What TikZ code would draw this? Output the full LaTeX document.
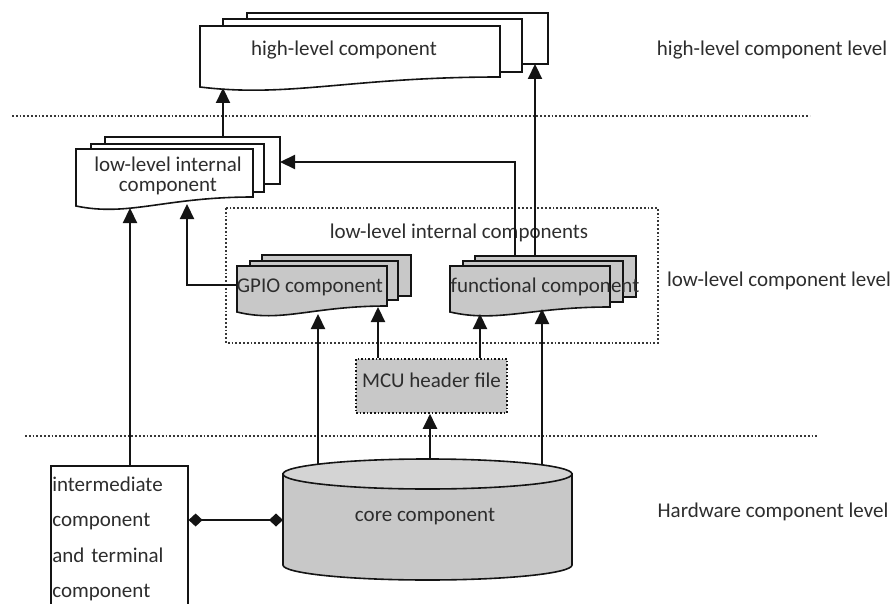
\documentclass[tikz,border=0pt]{standalone}
\usepackage{fontspec}
\setmainfont{Carlito}
\usetikzlibrary{arrows.meta}
\definecolor{txt}{RGB}{45,45,45}
\definecolor{ln}{RGB}{20,20,20}
\definecolor{gfill}{RGB}{200,200,200}
\definecolor{ctop}{RGB}{212,212,212}
\newcommand{\docfront}[6]{\draw[docline,fill=#6] (#1,#3) -- (#2,#3) -- (#2,#5) .. controls ({#1+0.5*(#2-#1)},#5) and ({#1+0.3*(#2-#1)},{#4+11}) .. (#1,#4) -- cycle;}
\newcommand{\docback}[5]{\draw[docline,fill=#5] (#1,#3) rectangle (#2,#4);}
\begin{document}
\begin{tikzpicture}[x=1pt,y=-1pt,
  docline/.style={draw=ln,line width=1.6pt},
  conn/.style={draw=ln,line width=2.2pt},
  arr/.style={conn,-{Triangle[length=15pt,width=14pt]}},
  lbl/.style={font=\fontsize{21}{24}\selectfont,text=txt,inner sep=0pt},
  sepline/.style={draw=ln!85,line width=1.8pt,dotted},
  dia/.style={conn,{Diamond[length=14pt,width=13pt]}-{Diamond[length=14pt,width=13pt]}}]
\useasboundingbox (0,0) rectangle (896,604);
% separators
\draw[sepline] (12,116) -- (810,116);
\draw[sepline] (25,436) -- (818,436);
\draw[sepline] (226,208) rectangle (658,343);
% high-level stack
\docback{247}{548}{13}{64}{white}
\docback{223}{522}{19}{72}{white}
\docfront{200}{500}{26}{87}{77}{white}
% low-level internal stack
\docback{105}{280}{137}{184}{white}
\docback{91}{264}{144}{192}{white}
\docfront{76}{253}{149}{206}{197}{white}
% GPIO stack
\docback{262}{411}{255}{296}{gfill}
\docback{250}{398}{261}{300}{gfill}
\docfront{237}{387}{266}{312}{306}{gfill}
% functional stack
\docback{475}{636}{256}{297}{gfill}
\docback{463}{623}{261}{302}{gfill}
\docfront{450}{610}{266}{312}{307}{gfill}
% core cylinder
\draw[docline,fill=gfill] (283,474) -- (283,565) arc[start angle=180,end angle=0,x radius=144.5,y radius=15] -- (572,474) -- cycle;
\draw[docline,fill=ctop] (427.5,474) ellipse[x radius=144.5,y radius=15];
% texts
\node[lbl] (hl) at (344,50) {high-level component};
\node[lbl,align=center,font=\fontsize{21}{20}\selectfont] (lli) at (168,176) {low-level internal\\component};
\node[lbl] (llic) at (459,233) {low-level internal components};
\node[lbl] (gpio) at (310,287) {GPIO component};
\node[lbl] (func) at (545,287) {functional component};
\node[draw=ln,dotted,line width=1.6pt,fill=gfill,minimum width=151pt,minimum height=54pt,
      text height=14pt,text depth=12pt,inner sep=0pt,font=\fontsize{21}{24}\selectfont,text=txt] (mcu) at (431.5,386) {MCU header file};
\node[lbl] (core) at (425,517) {core component};
\node[draw=ln,line width=1.6pt,anchor=north west,text width=134pt,inner xsep=1.5pt,inner ysep=0pt,
      minimum height=146pt,align=left,font=\fontsize{21}{35.5}\selectfont,text=txt] (inter) at (50,465)
      {intermediate\\component\\\makebox[127pt][s]{and terminal}\\component};
\node[lbl] (lvh) at (772,50) {high-level component level};
\node[lbl] (lvl) at (779,281) {low-level component level};
\node[lbl] (lvw) at (773,512) {Hardware component level};
% connection points
\coordinate (llitop) at (223,137);
\coordinate (hlin) at (223,88);
\coordinate (functop1) at (515,256);
\coordinate (functop2) at (535,256);
\coordinate (hlin2) at (535,64);
\coordinate (lliright) at (280,162);
\coordinate (lliin1) at (130,208);
\coordinate (lliin2) at (187,204);
\coordinate (gpioleft) at (237,285);
\coordinate (coret1) at (318,464);
\coordinate (coret2) at (430,459);
\coordinate (coret3) at (542,465);
\coordinate (gpioin1) at (318,314);
\coordinate (gpioin2) at (378,307);
\coordinate (funcin1) at (480,314);
\coordinate (funcin2) at (542,309);
\coordinate (coreleft) at (283,520);
% connectors
\draw[arr] (llitop) -- (hlin);
\draw[arr] (functop2) -- (hlin2);
\draw[arr] (functop1) |- (lliright);
\draw[arr] (inter.north -| lliin1) -- (lliin1);
\draw[arr] (gpioleft) -| (lliin2);
\draw[arr] (coret1) -- (gpioin1);
\draw[arr] (mcu.north -| gpioin2) -- (gpioin2);
\draw[arr] (mcu.north -| funcin1) -- (funcin1);
\draw[arr] (coret3) -- (funcin2);
\draw[arr] (coret2) -- (mcu.south -| coret2);
\draw[dia] (inter.east |- coreleft) -- (coreleft);
\end{tikzpicture}
\end{document}
